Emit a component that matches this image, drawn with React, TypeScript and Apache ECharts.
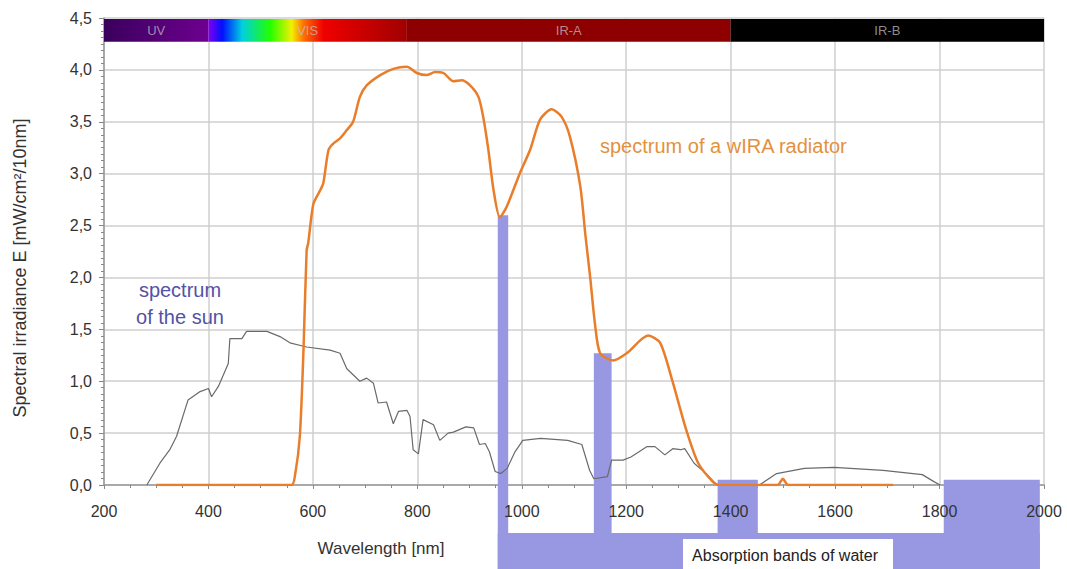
import React, { useEffect, useRef } from "react";
import * as echarts from "echarts";

// ---- data ----
const sunWavelength = [282, 307, 326, 339, 361, 384, 400, 406, 419, 438, 441, 464, 473, 512, 537, 556, 588, 633, 652, 665, 690, 703, 716, 725, 741, 754, 764, 780, 786, 792, 802, 811, 831, 843, 859, 869, 893, 908, 919, 930, 938, 949, 960, 972, 987, 1002, 1036, 1088, 1115, 1130, 1138, 1164, 1172, 1194, 1209, 1240, 1255, 1274, 1289, 1304, 1312, 1330, 1353, 1368, 1375, 1455, 1488, 1541, 1598, 1692, 1767, 1790, 1801];
const sunIrradiance = [0, 0.21, 0.34, 0.47, 0.82, 0.9, 0.93, 0.85, 0.95, 1.17, 1.41, 1.41, 1.48, 1.48, 1.43, 1.37, 1.33, 1.3, 1.27, 1.12, 1.0, 1.03, 0.98, 0.79, 0.8, 0.59, 0.71, 0.72, 0.66, 0.34, 0.3, 0.63, 0.58, 0.43, 0.5, 0.51, 0.56, 0.55, 0.39, 0.4, 0.32, 0.13, 0.11, 0.16, 0.32, 0.43, 0.45, 0.43, 0.39, 0.14, 0.06, 0.08, 0.24, 0.24, 0.27, 0.37, 0.37, 0.29, 0.35, 0.34, 0.35, 0.21, 0.11, 0.03, 0, 0, 0.11, 0.16, 0.17, 0.14, 0.1, 0.03, 0];

const wiraWavelength = [300, 559, 566, 575, 582, 588, 591, 601, 614, 620, 630, 639, 652, 665, 677, 690, 703, 729, 754, 780, 799, 818, 834, 850, 869, 885, 901, 917, 926, 936, 946, 958, 971, 996, 1016, 1035, 1057, 1076, 1092, 1112, 1122, 1131, 1140, 1150, 1175, 1201, 1242, 1265, 1288, 1315, 1338, 1368, 1378, 1490, 1500, 1510, 1711];
const wiraIrradiance = [0, 0, 0.1, 0.47, 1.3, 2.26, 2.33, 2.71, 2.84, 2.91, 3.23, 3.29, 3.34, 3.42, 3.5, 3.74, 3.85, 3.95, 4.01, 4.03, 3.97, 3.95, 3.98, 3.97, 3.89, 3.9, 3.85, 3.74, 3.55, 3.23, 2.84, 2.58, 2.68, 3.0, 3.23, 3.52, 3.62, 3.55, 3.36, 2.88, 2.4, 2.0, 1.56, 1.27, 1.2, 1.27, 1.44, 1.37, 1.01, 0.53, 0.21, 0.02, 0, 0, 0.06, 0, 0];

// water absorption bands [start nm, end nm, top value]
const bandStart = [954, 1138, 1375, 1808];
const bandEnd = [974, 1172, 1452, 1992];
const bandTop = [2.6, 1.27, 0.05, 0.05];

// spectral regions on top bar
const regionNames = ["UV", "VIS", "IR-A", "IR-B"];
const regionStart = [200, 400, 780, 1400];
const regionEnd = [400, 780, 1400, 2000];

const xTicks = { min: 200, max: 2000, interval: 200 };
const yTicks = { min: 0, max: 4.5, interval: 0.5 };

const FONT = "'Liberation Sans', Arial, sans-serif";
const BAND_COLOR = "#9898e2";

export default function App() {
  const ref = useRef<HTMLDivElement>(null);

  useEffect(() => {
    if (!ref.current) return;
    const chart = echarts.init(ref.current, undefined, { renderer: "svg" });

    const regionColors: any[] = [
      new echarts.graphic.LinearGradient(0, 0, 1, 0, [
        { offset: 0, color: "#3a005c" },
        { offset: 1, color: "#6e0090" },
      ]),
      new echarts.graphic.LinearGradient(0, 0, 1, 0, [
        { offset: 0, color: "#8000f0" },
        { offset: 0.07, color: "#0010ff" },
        { offset: 0.17, color: "#00d0e0" },
        { offset: 0.31, color: "#20ff00" },
        { offset: 0.42, color: "#f0f000" },
        { offset: 0.48, color: "#ff7000" },
        { offset: 0.58, color: "#f00000" },
        { offset: 1, color: "#a00000" },
      ]),
      "#8e0000",
      "#000000",
    ];

    const markAreaData = regionNames.map((name, i) => [
      {
        name,
        xAxis: regionStart[i],
        yAxis: 4.27,
        itemStyle: { color: regionColors[i], opacity: 1 },
      },
      { xAxis: regionEnd[i], yAxis: 4.49 },
    ]);

    const sunData = sunWavelength.map((w, i) => [w, sunIrradiance[i]]);
    const wiraData = wiraWavelength.map((w, i) => [w, wiraIrradiance[i]]);
    const bandData = bandStart.map((s, i) => [s, bandEnd[i], bandTop[i]]);
    const connectorData = [[bandStart[0], bandEnd[bandEnd.length - 1]]];

    const option: any = {
      animation: false,
      backgroundColor: "#ffffff",
      textStyle: { fontFamily: FONT },
      grid: { left: 104, right: 23, top: 18, bottom: 84 },
      xAxis: [
        {
          type: "value",
          min: xTicks.min,
          max: xTicks.max,
          interval: xTicks.interval,
          z: 0,
          axisLine: { show: true, lineStyle: { color: "#999", width: 1.5 } },
          axisTick: { show: true, length: 4, lineStyle: { color: "#888" } },
          minorTick: { show: true, splitNumber: 4, length: 3, lineStyle: { color: "#888" } },
          splitLine: { show: true, lineStyle: { color: "#cfcfcf", width: 1.5 } },
          axisLabel: { show: false },
        },
        {
          type: "value",
          position: "bottom",
          min: xTicks.min,
          max: xTicks.max,
          interval: xTicks.interval,
          z: 10,
          axisLine: { show: false },
          axisTick: { show: false },
          splitLine: { show: false },
          axisLabel: {
            color: "#333",
            fontSize: 16,
            margin: 18,
            fontFamily: FONT,
            formatter: (v: number) => String(v),
          },
        },
      ],
      yAxis: {
        type: "value",
        min: yTicks.min,
        max: yTicks.max,
        interval: yTicks.interval,
        axisLine: { show: true, lineStyle: { color: "#999", width: 1.5 } },
        axisTick: { show: true, length: 5, lineStyle: { color: "#888" } },
        minorTick: { show: true, splitNumber: 8, length: 3, lineStyle: { color: "#888" } },
        splitLine: { show: true, lineStyle: { color: "#cfcfcf", width: 1.5 } },
        axisLabel: {
          color: "#333",
          fontSize: 16,
          margin: 12,
          fontFamily: FONT,
          formatter: (v: number) => v.toFixed(1).replace(".", ","),
        },
      },
      series: [
        {
          type: "custom",
          name: "bands",
          clip: false,
          z: 1,
          silent: true,
          data: bandData,
          encode: { x: [0, 1], y: 2 },
          renderItem: (_params: any, api: any) => {
            const p0 = api.coord([api.value(0), api.value(2)]);
            const p1 = api.coord([api.value(1), 0]);
            const bottom = api.getHeight();
            return {
              type: "rect",
              shape: { x: p0[0], y: p0[1], width: p1[0] - p0[0], height: bottom - p0[1] },
              style: { fill: BAND_COLOR },
            };
          },
        },
        {
          type: "custom",
          name: "connector",
          clip: false,
          z: 1,
          silent: true,
          data: connectorData,
          encode: { x: [0, 1] },
          renderItem: (_params: any, api: any) => {
            const p0 = api.coord([api.value(0), 0]);
            const p1 = api.coord([api.value(1), 0]);
            const top = p0[1] + 48;
            return {
              type: "rect",
              shape: { x: p0[0], y: top, width: p1[0] - p0[0], height: api.getHeight() - top },
              style: { fill: BAND_COLOR },
            };
          },
        },
        {
          type: "line",
          name: "spectrum of the sun",
          data: sunData,
          showSymbol: false,
          z: 3,
          lineStyle: { color: "#6a6a6a", width: 1.2 },
          markArea: {
            silent: true,
            label: {
              show: true,
              position: "inside",
              color: "rgba(190,190,190,0.75)",
              fontSize: 13,
              fontFamily: FONT,
            },
            data: markAreaData,
          },
        },
        {
          type: "line",
          name: "spectrum of a wIRA radiator",
          data: wiraData,
          showSymbol: false,
          smooth: 0.25,
          z: 4,
          lineStyle: { color: "#e97d2a", width: 2.5 },
        },
      ],
      graphic: [
        {
          type: "text",
          z: 100,
          x: 180,
          y: 303,
          style: {
            text: "spectrum\nof the sun",
            fill: "#5252a6",
            font: `20px ${FONT}`,
            align: "center",
            verticalAlign: "middle",
            lineHeight: 27,
          },
        },
        {
          type: "text",
          z: 100,
          x: 600,
          y: 146,
          style: {
            text: "spectrum of a wIRA radiator",
            fill: "#e3913e",
            font: `20px ${FONT}`,
            verticalAlign: "middle",
          },
        },
        {
          type: "text",
          z: 100,
          x: 381,
          y: 548,
          style: {
            text: "Wavelength [nm]",
            fill: "#333",
            font: `17px ${FONT}`,
            align: "center",
            verticalAlign: "middle",
          },
        },
        {
          type: "text",
          z: 100,
          x: 20,
          y: 268,
          rotation: Math.PI / 2,
          style: {
            text: "Spectral irradiance E [mW/cm²/10nm]",
            fill: "#333",
            font: `18px ${FONT}`,
            align: "center",
            verticalAlign: "middle",
          },
        },
        {
          type: "rect",
          z: 100,
          shape: { x: 683, y: 539, width: 210, height: 32 },
          style: { fill: "#ffffff" },
        },
        {
          type: "text",
          z: 101,
          x: 785,
          y: 555,
          style: {
            text: "Absorption bands of water",
            fill: "#222",
            font: `16px ${FONT}`,
            align: "center",
            verticalAlign: "middle",
          },
        },
      ],
    };

    chart.setOption(option);
    return () => chart.dispose();
  }, []);

  return (
    <div
      ref={ref}
      style={{ position: "fixed", left: 0, top: 0, width: 1067, height: 569, background: "#fff" }}
    />
  );
}
